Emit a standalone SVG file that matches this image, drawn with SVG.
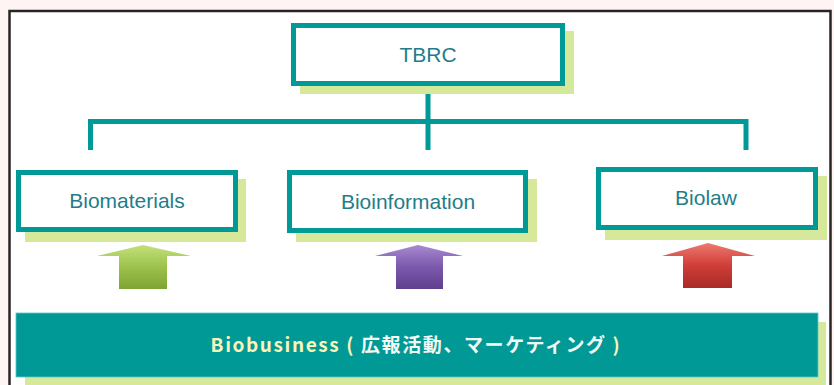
<svg xmlns="http://www.w3.org/2000/svg" width="834" height="385" viewBox="0 0 834 385">
<defs>
<style>
.shadow{fill:#d6e99b}
.box{fill:#ffffff;stroke:#009a96;stroke-width:5}
.lbl{font-family:"Liberation Sans",Arial,sans-serif;font-size:21px;fill:#1f7d8a;text-anchor:middle}
.conn{fill:none;stroke:#009a96;stroke-width:5}
</style>
<linearGradient id="gGreen" x1="0" y1="0" x2="0" y2="1">
<stop offset="0" stop-color="#c4e07a"/><stop offset="0.5" stop-color="#9cc24c"/><stop offset="1" stop-color="#7ea332"/>
</linearGradient>
<linearGradient id="gPurple" x1="0" y1="0" x2="0" y2="1">
<stop offset="0" stop-color="#a88ad0"/><stop offset="0.5" stop-color="#7b58ad"/><stop offset="1" stop-color="#5f3f8e"/>
</linearGradient>
<linearGradient id="gRed" x1="0" y1="0" x2="0" y2="1">
<stop offset="0" stop-color="#ec7a70"/><stop offset="0.5" stop-color="#cf3e38"/><stop offset="1" stop-color="#a92a26"/>
</linearGradient>
</defs>
<rect x="0" y="0" width="834" height="385" fill="#fdf4f3"/>
<rect x="9.5" y="11" width="821" height="380" fill="#ffffff" stroke="#2b2424" stroke-width="2.5"/>

<g id="connectors">
<path class="conn" d="M428 86 V150 M90.5 150 V121.5 H746 V150"/>
</g>

<g id="tbrc">
<rect class="shadow" x="300" y="31" width="274" height="63"/>
<rect class="box" x="293.5" y="25.5" width="269" height="58"/>
<text class="lbl" x="428" y="62">TBRC</text>
</g>

<g id="biomaterials">
<rect class="shadow" x="25" y="179" width="221" height="63"/>
<rect class="box" x="18.5" y="172.5" width="217" height="57"/>
<text class="lbl" x="127" y="208">Biomaterials</text>
</g>

<g id="bioinformation">
<rect class="shadow" x="296" y="179" width="241" height="63"/>
<rect class="box" x="289.5" y="172.5" width="236" height="58"/>
<text class="lbl" x="408" y="209">Bioinformation</text>
</g>

<g id="biolaw">
<rect class="shadow" x="605" y="176" width="222" height="64"/>
<rect class="box" x="598.5" y="169.5" width="217" height="58"/>
<text class="lbl" x="706" y="205">Biolaw</text>
</g>

<g id="arrow-green">
<path d="M143 245 L191 256 L167 256 L167 289 L119 289 L119 256 L97 256 Z" fill="url(#gGreen)"/>
</g>
<g id="arrow-purple">
<path d="M418 245 L463 256 L443 256 L443 289 L396 289 L396 256 L375 256 Z" fill="url(#gPurple)"/>
</g>
<g id="arrow-red">
<path d="M708 243 L755 256 L732 256 L732 288 L683 288 L683 256 L662 256 Z" fill="url(#gRed)"/>
</g>

<g id="biobusiness">
<rect class="shadow" x="25" y="322" width="801" height="70"/>
<rect x="16" y="313" width="802" height="64" fill="#009995" stroke="#5cc6c8" stroke-width="0.8"/>
<text x="416" y="352" text-anchor="middle" font-family="'Noto Sans CJK JP','Noto Sans',sans-serif" font-weight="bold" font-size="19" letter-spacing="1.6"><tspan fill="#fbf5b8">Biobusiness ( </tspan><tspan fill="#f2faf6">広報活動、マーケティング</tspan><tspan fill="#fbf5b8"> )</tspan></text>
</g>
</svg>
